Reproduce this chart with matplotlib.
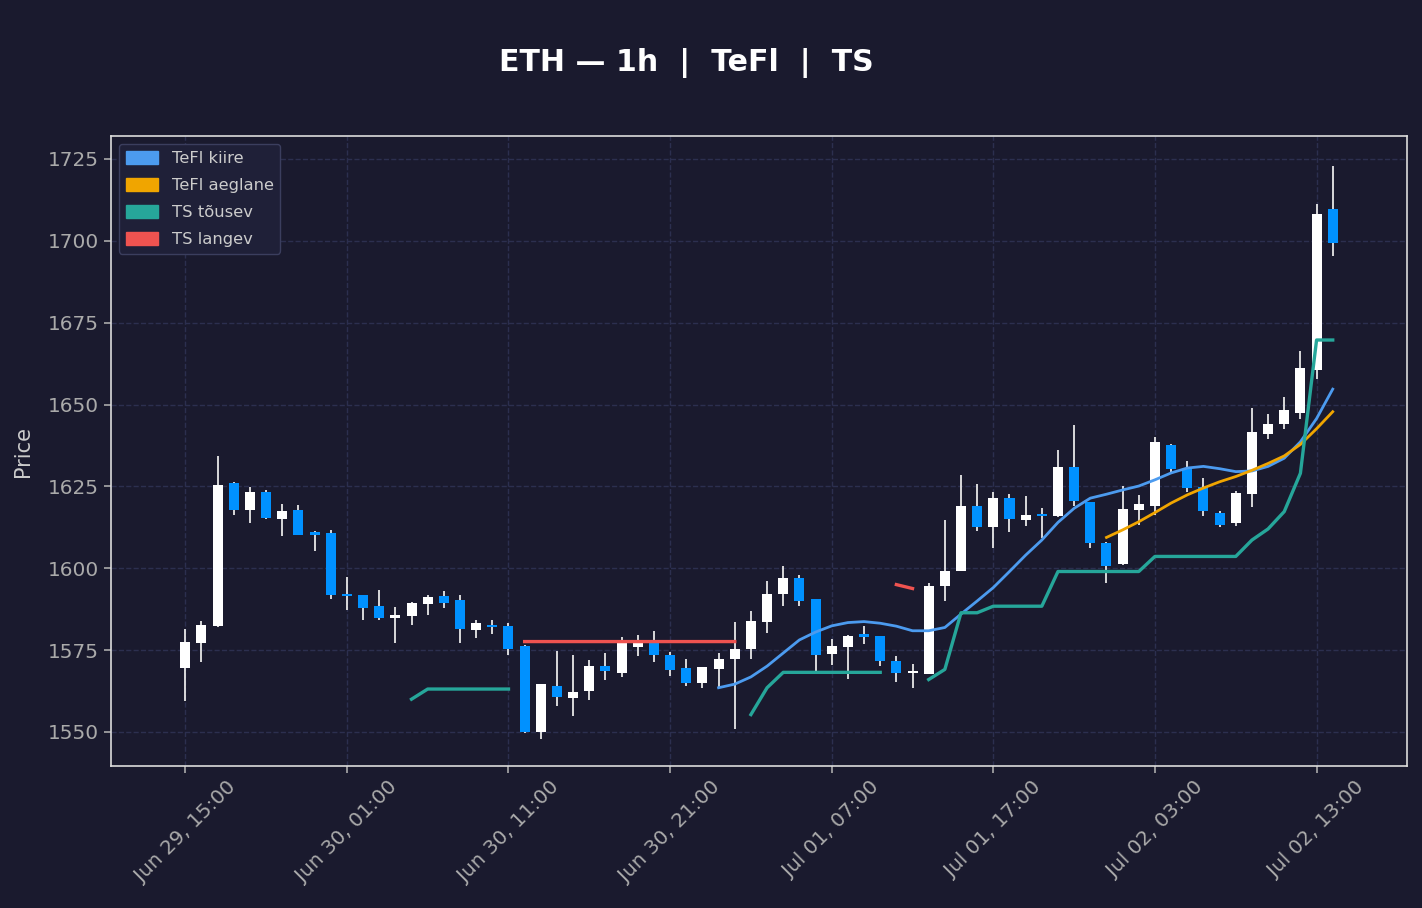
import matplotlib
matplotlib.use("Agg")
import matplotlib.pyplot as plt
import matplotlib.dates as mdates
import matplotlib.patches as mpatches
import numpy as np
import pandas as pd

nan = np.nan

# hourly candles, Jun 29 15:00 -> Jul 02 14:00
times = pd.date_range("2023-06-29 15:00", periods=72, freq="h")

opens = [1569.5, 1577.1, 1582.3, 1626.1, 1617.7, 1623.4, 1614.9, 1617.7, 1611.1, 1610.7,
         1591.9, 1591.7, 1588.4, 1584.8, 1585.3, 1589.0, 1591.5, 1590.3, 1581.0, 1582.4,
         1582.3, 1576.2, 1550.0, 1563.9, 1560.4, 1562.6, 1570.0, 1568.1, 1575.9, 1578.0,
         1573.4, 1569.5, 1564.9, 1569.3, 1572.2, 1575.3, 1583.7, 1592.1, 1596.9, 1590.5,
         1573.7, 1575.9, 1580.0, 1579.3, 1571.6, 1568.1, 1567.8, 1594.6, 1599.2, 1618.9,
         1612.7, 1621.4, 1614.7, 1616.2, 1615.9, 1630.8, 1620.1, 1607.7, 1601.2, 1617.7,
         1618.9, 1637.6, 1630.4, 1624.8, 1617.0, 1613.9, 1622.6, 1640.9, 1644.1, 1647.3,
         1660.6, 1709.8]
highs = [1581.5, 1584.0, 1634.2, 1626.4, 1624.9, 1623.9, 1619.6, 1619.4, 1611.4, 1611.7,
         1597.4, 1591.9, 1593.4, 1588.3, 1589.6, 1591.9, 1593.0, 1591.9, 1584.3, 1584.3,
         1583.4, 1576.4, 1564.6, 1574.7, 1573.4, 1572.0, 1574.1, 1579.0, 1579.7, 1580.7,
         1574.4, 1572.2, 1569.9, 1574.1, 1583.7, 1586.8, 1596.1, 1600.6, 1598.0, 1590.6,
         1578.4, 1579.7, 1582.4, 1579.4, 1573.2, 1570.6, 1595.5, 1614.8, 1628.5, 1625.7,
         1623.3, 1622.8, 1622.0, 1618.3, 1636.1, 1643.6, 1620.3, 1607.9, 1625.1, 1622.4,
         1640.1, 1637.8, 1632.8, 1627.6, 1617.6, 1623.6, 1648.8, 1647.2, 1652.3, 1666.2,
         1711.1, 1722.8]
lows = [1559.4, 1571.3, 1582.0, 1616.2, 1613.9, 1615.0, 1609.9, 1610.0, 1605.4, 1590.5,
        1587.1, 1584.3, 1584.3, 1577.1, 1582.8, 1585.8, 1587.8, 1577.3, 1578.8, 1579.8,
        1573.4, 1549.7, 1547.9, 1557.9, 1554.8, 1559.7, 1566.0, 1566.8, 1573.1, 1571.3,
        1567.2, 1563.9, 1563.5, 1563.5, 1551.0, 1572.2, 1580.3, 1588.4, 1588.6, 1568.5,
        1570.3, 1566.3, 1576.8, 1570.1, 1565.4, 1563.5, 1567.6, 1589.9, 1599.0, 1611.4,
        1606.2, 1611.2, 1612.9, 1609.3, 1615.7, 1618.9, 1606.2, 1595.6, 1601.0, 1613.2,
        1616.4, 1629.5, 1623.3, 1615.8, 1612.7, 1612.9, 1618.6, 1639.4, 1642.6, 1645.7,
        1657.9, 1695.5]
closes = [1577.6, 1582.8, 1625.4, 1617.7, 1623.4, 1615.2, 1617.4, 1610.2, 1610.2, 1591.8,
          1591.5, 1588.0, 1584.7, 1585.8, 1589.4, 1591.3, 1589.3, 1581.3, 1583.3, 1582.0,
          1575.3, 1549.9, 1564.6, 1560.6, 1562.2, 1570.0, 1568.7, 1577.2, 1577.2, 1573.4,
          1568.8, 1564.9, 1569.7, 1572.2, 1575.3, 1584.0, 1592.1, 1596.9, 1590.0, 1573.6,
          1576.1, 1579.3, 1579.0, 1571.6, 1568.1, 1568.4, 1594.6, 1599.2, 1618.9, 1612.7,
          1621.4, 1614.9, 1616.4, 1616.0, 1630.9, 1620.4, 1607.7, 1600.6, 1618.0, 1619.6,
          1638.6, 1630.4, 1624.4, 1617.4, 1613.3, 1623.0, 1641.6, 1644.1, 1648.4, 1661.0,
          1708.1, 1699.2]

tefl_fast = [nan] * 33 + [
    1563.5, 1564.6, 1566.8, 1570.1, 1574.1, 1578.1, 1580.5, 1582.4, 1583.4, 1583.7,
    1583.2, 1582.3, 1580.9, 1580.9, 1581.9, 1586.0, 1590.0, 1594.1, 1599.0, 1604.0,
    1608.6, 1614.0, 1618.3, 1621.4, 1622.6, 1623.9, 1625.1, 1627.0, 1629.1, 1630.6,
    1631.1, 1630.4, 1629.5, 1629.7, 1631.1, 1633.6, 1638.6, 1645.7, 1654.7]
tefl_slow = [nan] * 57 + [
    1609.4, 1611.7, 1614.2, 1617.0, 1619.9, 1622.4, 1624.5, 1626.4, 1628.0, 1629.9,
    1632.0, 1634.3, 1637.8, 1642.6, 1647.8]
ts_up = ([nan] * 14 + [1560.0] + [1563.1] * 6 + [nan] * 14
         + [1555.3, 1563.5] + [1568.2] * 7 + [nan] * 2
         + [1566.0, 1569.1, 1586.4, 1586.4] + [1588.4] * 4 + [1599.0] * 6
         + [1603.6] * 6 + [1608.6, 1612.0, 1617.3, 1629.0, 1669.7, 1669.7])
ts_down = ([nan] * 21 + [1577.6] * 14 + [nan] * 9 + [1595.0, 1593.8] + [nan] * 26)

bg = "#1a1a2e"
up_col = "#ffffff"
down_col = "#0091ff"
c_fast = "#4c9bef"
c_slow = "#f0a500"
c_up = "#26a69a"
c_down = "#ef5350"

fig = plt.figure(figsize=(14.22, 9.08), dpi=100, facecolor=bg)
ax = fig.add_axes([0.078, 0.1564, 0.9115, 0.6938], facecolor=bg)

x = mdates.date2num(times)
o = np.array(opens); c = np.array(closes)
h = np.array(highs); l = np.array(lows)
bull = c >= o
body_bottom = np.minimum(o, c)
body_h = np.maximum(np.abs(c - o), 0.6)
w = 0.62 / 24

ax.vlines(x, l, h, color="#e8e8e8", linewidth=1.3, zorder=2)
ax.bar(x, body_h, bottom=body_bottom, width=w,
       color=np.where(bull, up_col, down_col), edgecolor="none", zorder=3)

ax.plot(x, tefl_fast, color=c_fast, lw=2.0, zorder=4)
ax.plot(x, tefl_slow, color=c_slow, lw=2.0, zorder=4)
ax.plot(x, ts_up, color=c_up, lw=2.4, zorder=4)
ax.plot(x, ts_down, color=c_down, lw=2.4, zorder=4)

hour = 1 / 24
ax.set_xlim(x[0] - 4.6 * hour, x[0] + 75.6 * hour)
ax.set_ylim(1539.6, 1732.0)
ax.set_yticks(np.arange(1550, 1726, 25))
ax.set_xticks(x[::10])
ax.xaxis.set_major_formatter(mdates.DateFormatter("%b %d, %H:%M"))
plt.setp(ax.get_xticklabels(), rotation=45)

ax.grid(True, color="#2c2f4f", linestyle="--", linewidth=1.0)
ax.set_axisbelow(True)
for s in ax.spines.values():
    s.set_color("#dcdcdc")
    s.set_linewidth(1.2)
ax.tick_params(colors="#aaaaaa", labelsize=14.4, length=5, width=1.2)
ax.set_ylabel("Price", color="#cccccc", fontsize=15, labelpad=11)

handles = [mpatches.Patch(color=c_fast, label="TeFl kiire"),
           mpatches.Patch(color=c_slow, label="TeFl aeglane"),
           mpatches.Patch(color=c_up, label="TS tõusev"),
           mpatches.Patch(color=c_down, label="TS langev")]
leg = ax.legend(handles=handles, loc="upper left", fontsize=11.8,
                handleheight=0.85, labelspacing=0.72,
                facecolor="#1f2038", edgecolor="#3b3e5e", framealpha=1)
for t in leg.get_texts():
    t.set_color("#cccccc")

fig.text(0.483, 0.931, "ETH — 1h  |  TeFl  |  TS", color="white",
         fontsize=21.6, fontweight="bold", ha="center", va="center")

fig.savefig("out.png", dpi=100, facecolor=bg)
